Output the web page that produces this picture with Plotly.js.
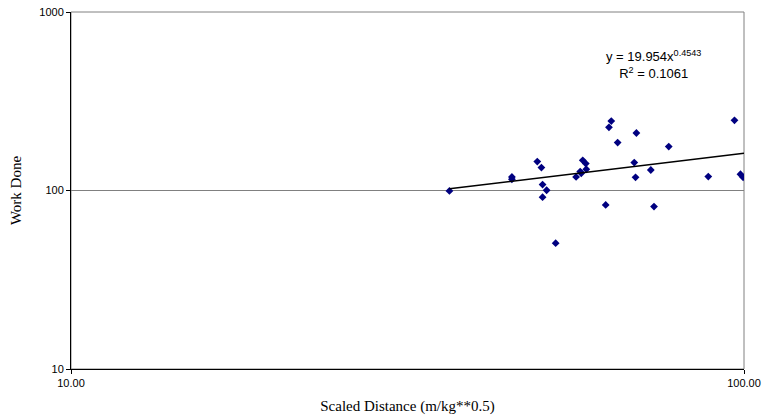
<!DOCTYPE html>
<html>
<head>
<meta charset="utf-8">
<script src="https://cdn.plot.ly/plotly-3.0.1.min.js"></script>
<style>html,body{margin:0;padding:0;background:#fff;}#chart{width:763px;height:419px;}</style>
</head>
<body>
<div id="chart"></div>
<script>
var scaledDistance = [36.5, 45.2, 45.2, 49.3, 50.0, 50.2, 50.9, 50.2, 52.5, 56.3, 57.1, 57.3, 57.6, 58.2, 58.3, 62.3, 63.0, 63.5, 64.9, 68.7, 69.0, 69.2, 72.7, 73.5, 77.3, 88.5, 96.8, 98.8, 99.7];
var workDone = [99.4, 119.1, 115.6, 145.2, 134.4, 108.0, 100.3, 91.7, 50.7, 119.1, 127.6, 124.9, 147.6, 141.5, 131.5, 83.0, 225.9, 245.0, 185.5, 143.3, 118.6, 209.9, 130.3, 81.3, 176.2, 119.7, 247.2, 123.3, 118.6];
var trendCoef = 19.954;
var trendExp = 0.4543;
var trendR2 = 0.1061;
var trendX = [36.5, 100];
var xTickVals = [10, 100];
var xTickText = ['10.00', '100.00'];
var yTickVals = [10, 100, 1000];
var yTickText = ['10', '100', '1000'];

var trendY = trendX.map(function (x) { return trendCoef * Math.pow(x, trendExp); });

var data = [
  {
    x: scaledDistance, y: workDone, type: 'scatter', mode: 'markers',
    marker: {symbol: 'diamond', size: 6, color: '#000080'},
    showlegend: false, hoverinfo: 'x+y'
  },
  {
    x: trendX, y: trendY, type: 'scatter', mode: 'lines',
    line: {color: '#000000', width: 1.5},
    showlegend: false
  }
];

var layout = {
  width: 763, height: 419,
  margin: {l: 71, r: 18.5, t: 11.5, b: 50, pad: 0},
  paper_bgcolor: '#ffffff', plot_bgcolor: '#ffffff',
  xaxis: {
    type: 'log', range: [1, 2],
    tickvals: xTickVals, ticktext: xTickText,
    ticks: 'outside', ticklen: 4, tickcolor: '#000', tickwidth: 1,
    showline: true, linecolor: '#000', linewidth: 1,
    showgrid: false, zeroline: false,
    tickfont: {family: 'Liberation Sans, Arial', size: 11, color: '#000'},
    title: {text: 'Scaled Distance (m/kg**0.5)', font: {family: 'Liberation Serif, Times New Roman', size: 15, color: '#000'}, standoff: 12}
  },
  yaxis: {
    type: 'log', range: [1, 3],
    tickvals: yTickVals, ticktext: yTickText,
    ticks: 'outside', ticklen: 4, tickcolor: '#000', tickwidth: 1,
    showline: true, linecolor: '#000', linewidth: 1,
    showgrid: true, gridcolor: '#808080', gridwidth: 1, zeroline: false,
    tickfont: {family: 'Liberation Sans, Arial', size: 11, color: '#000'},
    title: {text: 'Work Done', font: {family: 'Liberation Serif, Times New Roman', size: 15, color: '#000'}, standoff: 14}
  },
  shapes: [{
    type: 'rect', xref: 'paper', yref: 'paper', x0: 0, x1: 1, y0: 0, y1: 1,
    line: {color: '#808080', width: 1}, layer: 'below'
  }],
  annotations: [{
    xref: 'paper', yref: 'paper', x: 0.865, y: 0.853,
    xanchor: 'center', yanchor: 'middle', showarrow: false, align: 'center',
    text: 'y = ' + trendCoef + 'x<sup>' + trendExp + '</sup><br>R<sup>2</sup> = ' + trendR2,
    font: {family: 'Liberation Sans, Arial', size: 13, color: '#000'}
  }]
};

Plotly.newPlot('chart', data, layout, {displayModeBar: false, staticPlot: true});
</script>
</body>
</html>
